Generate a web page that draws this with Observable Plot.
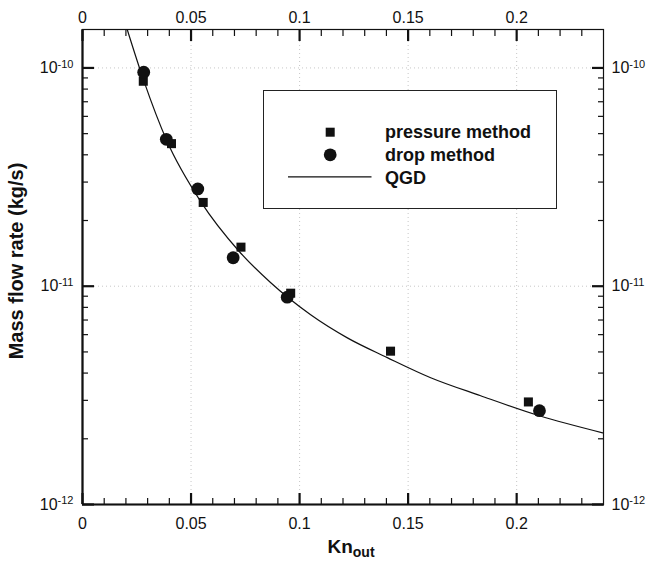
<!DOCTYPE html>
<html><head><meta charset="utf-8">
<script src="https://cdn.jsdelivr.net/npm/d3@7"></script>
<script src="https://cdn.jsdelivr.net/npm/@observablehq/plot@0.6"></script>
<style>
body{margin:0;background:#fff;}
#wrap{position:relative;width:647px;height:568px;font-family:"Liberation Sans",Arial,sans-serif;}
#legend{position:absolute;left:262.5px;top:89.5px;width:292px;height:117px;border:1px solid #222;background:#fff;}
</style></head><body><div id="wrap"></div>
<script>
// Data
const pressureKn   = [0.0280, 0.0410, 0.0556, 0.0730, 0.0959, 0.1419, 0.2054];
const pressureFlow = [8.69e-11, 4.50e-11, 2.42e-11, 1.51e-11, 9.29e-12, 5.04e-12, 2.95e-12];
const dropKn       = [0.0282, 0.0386, 0.0531, 0.0694, 0.0943, 0.2105];
const dropFlow     = [9.56e-11, 4.71e-11, 2.79e-11, 1.35e-11, 8.91e-12, 2.69e-12];
const qgdKn        = [0.0206, 0.0283, 0.0390, 0.0547, 0.0720, 0.0866, 0.1051, 0.1220, 0.1404, 0.1604, 0.1834, 0.2105, 0.2396];
const qgdFlow      = [1.50e-10, 8.7e-11, 4.6e-11, 2.42e-11, 1.45e-11, 1.04e-11, 7.4e-12, 5.8e-12, 4.71e-12, 3.81e-12, 3.15e-12, 2.55e-12, 2.13e-12];

// Ticks and labels
const xMajorTicks = [0, 0.05, 0.1, 0.15, 0.2];
const xTickLabels = ["0", "0.05", "0.1", "0.15", "0.2"];
const xMinorTicks = [0.01,0.02,0.03,0.04,0.06,0.07,0.08,0.09,0.11,0.12,0.13,0.14,0.16,0.17,0.18,0.19,0.21,0.22,0.23];
const xGridTicks  = [0.05, 0.1, 0.15, 0.2];
const yMajorTicks = [1e-12, 1e-11, 1e-10];
const yTickLabels = ["10^-12", "10^-11", "10^-10"];
const yMinorTicks = [2e-12,3e-12,4e-12,5e-12,6e-12,7e-12,8e-12,9e-12,2e-11,3e-11,4e-11,5e-11,6e-11,7e-11,8e-11,9e-11];
const yGridTicks  = [1e-11, 1e-10];
const xTitle = "Kn_out";
const yTitle = "Mass flow rate (kg/s)";
const legendItems = ["pressure method", "drop method", "QGD"];

const pressure = pressureKn.map((k, i) => ({kn: k, flow: pressureFlow[i]}));
const drop = dropKn.map((k, i) => ({kn: k, flow: dropFlow[i]}));
const qgd = qgdKn.map((k, i) => ({kn: k, flow: qgdFlow[i]}));

const ink = "#111";
const font = "'Liberation Sans', Arial, sans-serif";
const blank = () => "";
const xLab = d => xTickLabels[xMajorTicks.indexOf(d)];
const yLab = d => yTickLabels[yMajorTicks.indexOf(d)];

const chart = Plot.plot({
  width: 647, height: 568,
  marginLeft: 82, marginRight: 44, marginTop: 29, marginBottom: 64,
  style: {fontFamily: font, fontSize: "16px", color: ink, background: "#fff", overflow: "visible"},
  x: {domain: [0, 0.24], axis: null},
  y: {type: "log", domain: [1e-12, 1.5e-10], axis: null},
  marks: [
    Plot.gridX(xGridTicks, {stroke: "#999", strokeOpacity: 0.55, strokeDasharray: "1,3"}),
    Plot.gridY(yGridTicks, {stroke: "#999", strokeOpacity: 0.55, strokeDasharray: "1,3"}),
    // frame
    Plot.frame({stroke: ink, strokeWidth: 1.2}),
    Plot.ruleX([0], {stroke: ink, strokeWidth: 2.2}),
    Plot.ruleY([1e-12], {stroke: ink, strokeWidth: 2.2}),
    // x ticks (inward) bottom and top
    Plot.axisX(xMinorTicks, {anchor: "bottom", label: null, tickSize: -6, tickFormat: blank, strokeWidth: 1.2}),
    Plot.axisX(xMajorTicks, {anchor: "bottom", label: null, tickSize: -11, tickFormat: blank, strokeWidth: 2.2}),
    Plot.axisX(xMinorTicks, {anchor: "top", label: null, tickSize: -6, tickFormat: blank, strokeWidth: 1.2}),
    Plot.axisX(xMajorTicks, {anchor: "top", label: null, tickSize: -11, tickFormat: blank, strokeWidth: 2.2}),
    Plot.axisX(xMajorTicks, {anchor: "bottom", label: null, tickSize: 0, tickPadding: 13, tickFormat: xLab, fontSize: 16}),
    Plot.axisX(xMajorTicks, {anchor: "top", label: null, tickSize: 0, tickPadding: 7, tickFormat: xLab, fontSize: 16}),
    // y ticks (inward) left and right
    Plot.axisY(yMinorTicks, {anchor: "left", label: null, tickSize: -6, tickFormat: blank, strokeWidth: 1.2}),
    Plot.axisY(yMajorTicks, {anchor: "left", label: null, tickSize: -12, tickFormat: blank, strokeWidth: 2.2}),
    Plot.axisY(yMinorTicks, {anchor: "right", label: null, tickSize: -6, tickFormat: blank, strokeWidth: 1.2}),
    Plot.axisY(yMajorTicks, {anchor: "right", label: null, tickSize: -12, tickFormat: blank, strokeWidth: 2.2}),
    Plot.axisY(yMajorTicks, {anchor: "left", label: null, tickSize: 0, tickPadding: 9, tickFormat: yLab, fontSize: 16}),
    Plot.axisY(yMajorTicks, {anchor: "right", label: null, tickSize: 0, tickPadding: 8, tickFormat: yLab, fontSize: 16}),
    // titles
    Plot.text([xTitle], {frameAnchor: "bottom", dx: 8, dy: 48, lineAnchor: "bottom", textAnchor: "middle", fontWeight: "bold", fontSize: 19, text: d => d}),
    Plot.text([yTitle], {frameAnchor: "left", rotate: -90, dx: -66, dy: -6, lineAnchor: "middle", textAnchor: "middle", fontWeight: "bold", fontSize: 20, text: d => d}),
    // data
    Plot.line(qgd, {x: "kn", y: "flow", stroke: ink, strokeWidth: 1.2, curve: "monotone-x", clip: true}),
    Plot.dot(pressure, {x: "kn", y: "flow", symbol: "square", r: 5.1, fill: ink, stroke: "none"}),
    Plot.dot(drop, {x: "kn", y: "flow", symbol: "circle", r: 6.4, fill: ink, stroke: "none"})
  ]
});

// superscripts / subscripts as real text
d3.select(chart).selectAll("text").each(function() {
  const t = this.textContent;
  const m = /^10\^(-?\d+)$/.exec(t);
  if (m) {
    this.textContent = "10";
    d3.select(this).attr("font-size", "16px").style("font-size", "16px");
    d3.select(this).append("tspan").attr("dy", "-0.5em").attr("font-size", "11px").style("font-size", "11px").text(m[1]);
  } else if (t === "Kn_out") {
    this.textContent = "Kn";
    d3.select(this).append("tspan").attr("dy", "0.35em").attr("font-size", "14px").style("font-size", "14px").text("out");
  }
});

const wrap = document.getElementById("wrap");
wrap.appendChild(chart);

// legend
const legend = document.createElement("div");
legend.id = "legend";
const ls = d3.create("svg").attr("width", 292).attr("height", 117).style("display", "block");
ls.append("rect").attr("x", 61.7).attr("y", 36.7).attr("width", 9).attr("height", 9).attr("fill", ink);
ls.append("circle").attr("cx", 66.2).attr("cy", 63.8).attr("r", 6.4).attr("fill", ink);
ls.append("line").attr("x1", 24).attr("x2", 107.5).attr("y1", 85.8).attr("y2", 85.8).attr("stroke", ink).attr("stroke-width", 1.2);
const ys = [47, 70, 92.5];
legendItems.forEach((s, i) => {
  ls.append("text").attr("x", 121).attr("y", ys[i]).attr("font-family", font).attr("font-size", 18).attr("font-weight", "bold").attr("fill", ink).text(s);
});
legend.appendChild(ls.node());
wrap.appendChild(legend);
</script>
</body></html>
